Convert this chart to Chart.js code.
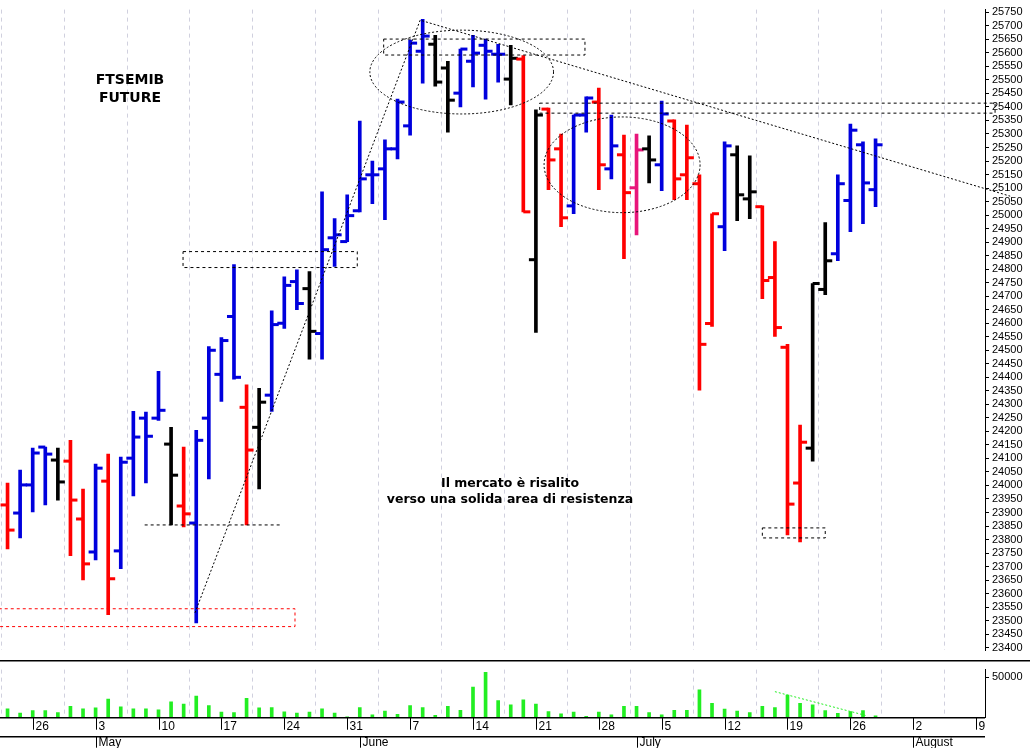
<!DOCTYPE html>
<html>
<head>
<meta charset="utf-8">
<script src="https://cdn.jsdelivr.net/npm/chart.js@4.4.1/dist/chart.umd.min.js"></script>
<style>
  body { margin: 0; background: #fff; width: 1030px; height: 748px; overflow: hidden; position: relative; font-family: "DejaVu Sans", sans-serif; }
  canvas { position: absolute; left: 0; }
  #priceCanvas { top: 0; }
  #volCanvas { top: 660px; }
  .note { position: absolute; font-weight: bold; color: #000; text-align: center; }
</style>
</head>
<body>
<canvas id="priceCanvas" width="1030" height="660"></canvas>
<canvas id="volCanvas" width="1030" height="88"></canvas>
<div class="note" style="left:70px;top:70px;width:120px;font-size:14px;line-height:18px;">FTSEMIB<br>FUTURE</div>
<div class="note" style="left:350px;top:475px;width:320px;font-size:12.5px;line-height:16px;">Il mercato è risalito<br>verso una solida area di resistenza</div>
<script>
// trading day index: 0 = Mon 26 April
const dayIndex = [-2,-1,0,1,2,3,4,5,6,7,8,9,10,11,12,13,14,15,16,17,18,19,20,21,22,23,24,25,26,27,28,29,30,31,32,33,34,35,36,37,38,39,40,41,42,43,44,45,46,47,48,49,50,51,52,53,54,55,56,57,58,59,60,61,62,63,64,65,66,67];
const openPrices = [23928,23898,24002,24142,24094,24090,23876,23754,24016,23758,24101,24249,24249,24153,23924,23861,24249,24411,24625,24289,24215,24334,24600,24754,24728,24562,24916,24902,25016,25149,25171,25245,25330,25606,25632,25544,25451,25569,25628,25595,25503,25577,24835,25392,25245,25034,25370,25418,25171,25223,25101,25245,25186,25348,25149,25116,24599,24957,25223,25060,25031,24769,24511,24009,24138,24725,24857,25054,25260,25094];
const highPrices = [24009,24057,24138,24142,24138,24167,23987,24079,24116,24105,24274,24271,24422,24215,24142,24204,24514,24547,24817,24372,24359,24646,24772,24798,24791,25086,24987,25075,25348,25200,25278,25429,25647,25724,25665,25569,25614,25665,25651,25632,25628,25590,25389,25396,25300,25370,25437,25470,25370,25296,25300,25293,25422,25352,25333,25149,25005,25271,25256,25219,25034,24902,24522,24223,24747,24972,25149,25337,25271,25282];
const lowPrices = [23765,23806,23902,23928,23946,23740,23651,23725,23522,23692,23961,24009,24241,23854,23847,23492,24024,24311,24393,23854,23987,24274,24581,24650,24467,24467,24810,24902,25012,25042,24983,25208,25296,25488,25477,25307,25400,25474,25429,25492,25407,25012,24566,25094,24957,25005,25307,25094,25134,24839,24927,25119,25090,25057,25057,24352,24588,24868,24979,24987,24691,24551,23817,23791,24090,24706,24831,24939,24968,25031];
const closePrices = [23835,24002,24120,24116,24013,23946,23710,24064,23655,24086,24179,24182,24278,24038,23895,24167,24500,24536,24400,24131,24308,24595,24740,24673,24570,24872,24927,24998,25134,25149,25245,25418,25636,25662,25492,25425,25614,25599,25606,25595,25580,25012,25370,25204,24990,25370,25433,25186,25256,25083,25241,25204,25374,25134,25212,24522,25005,25256,25075,25086,24758,24584,23931,24160,24747,24831,25116,25314,25119,25260];
const volumes = [10850,5600,8750,8750,6300,14000,10850,12250,23100,13300,10850,10850,9800,19600,16800,26600,15050,7000,6300,23800,12250,12600,7350,5600,7000,10850,5600,1050,12600,3500,8050,4200,15050,12600,2800,14000,9100,37800,56000,21000,15750,22050,16800,7700,4900,7000,1750,7000,3500,14000,14000,6300,3500,9100,9100,34300,17850,10500,8050,6300,14000,12600,28000,17850,15750,8750,5250,7700,8750,2450];
const barColorCodes = "RBBBKRRBRBBBBKRBBBBRKBBBKBBBBBBBBBKKBBBBKRKRRBBRBRMKBRRRRBKKRRRRKKBBBB";

const weekTickIndex = [0,5,10,15,20,25,30,35,40,45,50,55,60,65,70,75];
const weekTickLabels = ["26","3","10","17","24","31","7","14","21","28","5","12","19","26","2","9"];
const monthTickIndex = [5,26,48,70];
const monthTickLabels = ["May","June","July","August"];
const priceTicks = [];
for (let p = 23400; p <= 25750; p += 50) priceTicks.push(p);

const xMin = -2.6, xMax = 75.7;
const colorMap = { R: "#ff0000", B: "#0000dd", K: "#000000", M: "#e8157a" };
const barColors = barColorCodes.split("").map((c) => colorMap[c]);

function fixRightAxis(scale) { scale.width = 45; }
function noHeight(scale) { scale.height = 0; }

const ohlcTicks = {
  id: "ohlcTicks",
  afterDatasetsDraw(chart) {
    const { ctx, scales: { x, y } } = chart;
    ctx.save();
    dayIndex.forEach((d, i) => {
      const px = x.getPixelForValue(d);
      ctx.fillStyle = barColors[i];
      ctx.fillRect(px - 7, y.getPixelForValue(openPrices[i]) - 1.5, 7, 3);
      ctx.fillRect(px, y.getPixelForValue(closePrices[i]) - 1.5, 7, 3);
    });
    ctx.restore();
  }
};

const priceNotes = {
  id: "priceNotes",
  afterDatasetsDraw(chart) {
    const { ctx, scales: { x, y } } = chart;
    const X = (v) => x.getPixelForValue(v), Y = (v) => y.getPixelForValue(v);
    ctx.save();
    ctx.lineWidth = 1;
    ctx.setLineDash([3, 3]);
    const rect = (x0, x1, p0, p1, color) => {
      ctx.strokeStyle = color;
      ctx.strokeRect(X(x0), Y(p0), X(x1) - X(x0), Y(p1) - Y(p0));
    };
    rect(-2.7, 20.85, 23544, 23478, "#ff0000");
    rect(11.95, 25.8, 24865, 24806, "#000");
    rect(27.9, 43.9, 25651, 25592, "#000");
    rect(40.3, 76.5, 25414, 25377, "#000");
    rect(58, 63, 23843, 23806, "#000");
    ctx.strokeStyle = "#000";
    ctx.beginPath();
    ctx.moveTo(X(8.9), Y(23854)); ctx.lineTo(X(19.7), Y(23854));
    ctx.stroke();
    ctx.setLineDash([2, 2]);
    ctx.beginPath();
    ctx.moveTo(X(12.9), Y(23529)); ctx.lineTo(X(30.8), Y(25721));
    ctx.lineTo(X(77.7), Y(25070));
    ctx.stroke();
    const ellipse = (cx, cp, rx, rp) => {
      ctx.beginPath();
      ctx.ellipse(X(cx), Y(cp), X(cx + rx) - X(cx), Y(cp) - Y(cp + rp), 0, 0, Math.PI * 2);
      ctx.stroke();
    };
    ellipse(34.1, 25529, 7.3, 155);
    ellipse(46.85, 25186, 6.2, 177);
    ctx.restore();
  }
};

const xGrid = { color: "#d0d0de", drawTicks: false };

new Chart(document.getElementById("priceCanvas"), {
  type: "bar",
  data: {
    datasets: [{
      data: dayIndex.map((d, i) => ({ x: d, y: [lowPrices[i], highPrices[i]] })),
      backgroundColor: barColors,
      barThickness: 3,
      grouped: false
    }]
  },
  options: {
    responsive: false,
    animation: false,
    layout: { padding: 0 },
    plugins: { legend: { display: false }, tooltip: { enabled: false } },
    scales: {
      x: {
        type: "linear", min: xMin, max: xMax, offset: false,
        ticks: { display: false, padding: 0 },
        afterBuildTicks: (s) => { s.ticks = weekTickIndex.map((v) => ({ value: v })); },
        afterFit: noHeight,
        grid: xGrid,
        border: { display: false, dash: [4, 4] }
      },
      y: {
        position: "right", min: 23390, max: 25760,
        afterBuildTicks: (s) => { s.ticks = priceTicks.map((v) => ({ value: v })); },
        afterFit: fixRightAxis,
        ticks: { color: "#000", font: { family: "Liberation Sans", size: 11 }, padding: 3, autoSkip: false, callback: (v) => String(v) },
        grid: { display: true, drawOnChartArea: false, tickLength: 4, color: "#000" },
        border: { color: "#000" }
      }
    }
  },
  plugins: [ohlcTicks, priceNotes]
});

const dateRow = {
  id: "dateRow",
  afterDraw(chart) {
    const { ctx, scales: { x }, chartArea } = chart;
    const top = chartArea.bottom;
    ctx.save();
    ctx.strokeStyle = "#000";
    ctx.lineWidth = 1.5;
    ctx.beginPath();
    ctx.moveTo(0, 0.75); ctx.lineTo(1030, 0.75);
    ctx.moveTo(0, top); ctx.lineTo(985, top);
    ctx.moveTo(0, top + 19); ctx.lineTo(985, top + 19);
    ctx.stroke();
    ctx.lineWidth = 1;
    ctx.fillStyle = "#000";
    ctx.font = "12px 'Liberation Sans Narrow', 'Liberation Sans'";
    ctx.textBaseline = "middle";
    weekTickIndex.forEach((v, k) => {
      const px = Math.round(x.getPixelForValue(v)) + 0.5;
      if (px > 986) return;
      ctx.beginPath(); ctx.moveTo(px, top); ctx.lineTo(px, top + 12); ctx.stroke();
      ctx.fillText(weekTickLabels[k], px + 2, top + 9);
    });
    monthTickIndex.forEach((v, k) => {
      const px = Math.round(x.getPixelForValue(v)) + 0.5;
      ctx.beginPath(); ctx.moveTo(px, top + 19); ctx.lineTo(px, top + 30); ctx.stroke();
      ctx.fillText(monthTickLabels[k], px + 2, top + 25);
    });
    ctx.restore();
  }
};

const volTrend = {
  id: "volTrend",
  afterDatasetsDraw(chart) {
    const { ctx, scales: { x, y } } = chart;
    ctx.save();
    ctx.strokeStyle = "#22ee22";
    ctx.setLineDash([2, 2]);
    ctx.beginPath();
    ctx.moveTo(x.getPixelForValue(59), y.getPixelForValue(32180));
    ctx.lineTo(x.getPixelForValue(66.2), y.getPixelForValue(2830));
    ctx.stroke();
    ctx.restore();
  }
};

new Chart(document.getElementById("volCanvas"), {
  type: "bar",
  data: {
    datasets: [{
      data: dayIndex.map((d, i) => ({ x: d, y: volumes[i] })),
      backgroundColor: "#22ee22",
      barThickness: 3
    }]
  },
  options: {
    responsive: false,
    animation: false,
    layout: { padding: { top: 1, bottom: 30.3 } },
    plugins: { legend: { display: false }, tooltip: { enabled: false } },
    scales: {
      x: {
        type: "linear", min: xMin, max: xMax, offset: false,
        ticks: { display: false, padding: 0 },
        afterBuildTicks: (s) => { s.ticks = weekTickIndex.map((v) => ({ value: v })); },
        afterFit: noHeight,
        grid: xGrid,
        border: { display: false, dash: [4, 4] }
      },
      y: {
        position: "right", min: 0, max: 59430,
        afterBuildTicks: (s) => { s.ticks = [{ value: 50000 }]; },
        afterFit: fixRightAxis,
        ticks: { color: "#000", font: { family: "Liberation Sans", size: 11 }, padding: 3, callback: (v) => String(v) },
        grid: { drawOnChartArea: false, tickLength: 4, color: "#000" },
        border: { color: "#000" }
      }
    }
  },
  plugins: [volTrend, dateRow]
});
</script>
</body>
</html>
